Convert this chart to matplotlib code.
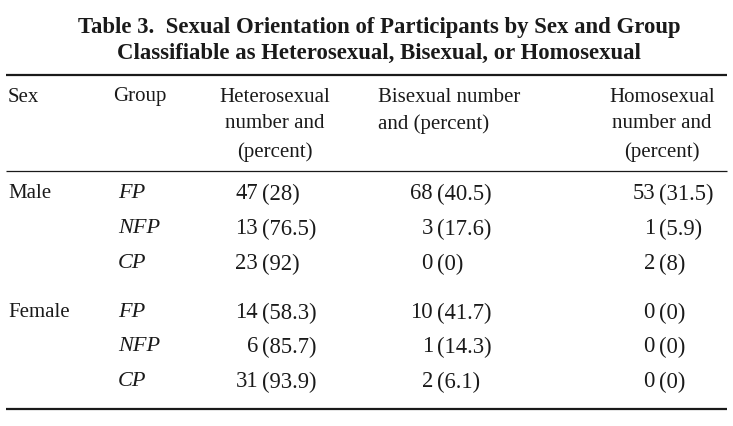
import matplotlib
matplotlib.use("Agg")
import matplotlib.pyplot as plt

title_lines = ["Table 3.  Sexual Orientation of Participants by Sex and Group",
               "Classifiable as Heterosexual, Bisexual, or Homosexual"]
sexes = ["Male", "Female"]
groups = ["FP", "NFP", "CP"]
hetero_n = [47, 13, 23, 14, 6, 31]
hetero_p = ["28", "76.5", "92", "58.3", "85.7", "93.9"]
bi_n = [68, 3, 0, 10, 1, 2]
bi_p = ["40.5", "17.6", "0", "41.7", "14.3", "6.1"]
homo_n = [53, 1, 2, 0, 0, 0]
homo_p = ["31.5", "5.9", "8", "0", "0", "0"]

W, H = 733, 427
fig = plt.figure(figsize=(W / 100, H / 100), dpi=100)
ax = fig.add_axes([0, 0, 1, 1])
ax.set_xlim(0, W)
ax.set_ylim(H, 0)
ax.axis("off")

FONT = "Liberation Serif"
fs = 15
fsn = 16.3
col = "#1a1a1a"

# title
ax.text(379, 27, title_lines[0], ha="center", va="center", fontsize=16.4,
        fontweight="bold", family=FONT, color=col)
ax.text(379, 53, title_lines[1], ha="center", va="center", fontsize=16.4,
        fontweight="bold", family=FONT, color=col)

# rules
ax.plot([6, 727], [76, 76], color=col, lw=1.6, solid_capstyle="butt")
ax.plot([6, 727], [172, 172], color=col, lw=0.9, solid_capstyle="butt")
ax.plot([6, 727], [410, 410], color=col, lw=1.6, solid_capstyle="butt")

# header
hy = [97, 124, 152]
ax.text(8, hy[0], "Sex", ha="left", va="center", fontsize=fs, family=FONT, color=col)
ax.text(113, hy[0], "Group", ha="left", va="center", fontsize=fs, family=FONT, color=col)
for i, s in enumerate(["Heterosexual", "number and", "(percent)"]):
    ax.text(275, hy[i], s, ha="center", va="center", fontsize=fs, family=FONT, color=col)
for i, s in enumerate(["Bisexual number", "and (percent)"]):
    ax.text(378, hy[i], s, ha="left", va="center", fontsize=fs, family=FONT, color=col)
for i, s in enumerate(["Homosexual", "number and", "(percent)"]):
    ax.text(662, hy[i], s, ha="center", va="center", fontsize=fs, family=FONT, color=col)

# data rows
row_y = [194, 229, 264, 313, 347, 382]
for k, sx in enumerate(sexes):
    ax.text(8, row_y[3 * k], sx, ha="left", va="center", fontsize=fs, family=FONT, color=col)

cols = [(hetero_n, hetero_p, 258), (bi_n, bi_p, 433), (homo_n, homo_p, 655)]
for r, y in enumerate(row_y):
    ax.text(118, y, groups[r % 3], ha="left", va="center", fontsize=16,
            family=FONT, style="italic", color=col)
    for ns, ps, xr in cols:
        ax.text(xr, y, str(ns[r]), ha="right", va="center", fontsize=fsn, family=FONT, color=col)
        ax.text(xr + 4, y, "(" + ps[r] + ")", ha="left", va="center", fontsize=fsn,
                family=FONT, color=col)

fig.savefig("out.png", dpi=100, facecolor="white")
